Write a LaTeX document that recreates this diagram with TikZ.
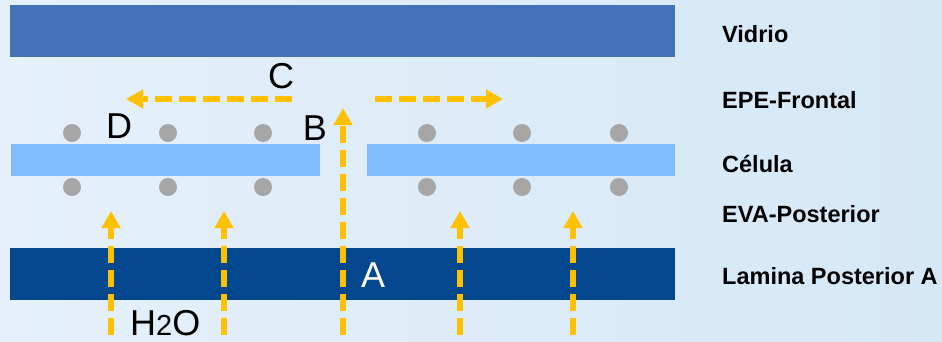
\documentclass[tikz,border=0pt]{standalone}
\usepackage{fontspec}
\setmainfont{Liberation Sans}
\usetikzlibrary{arrows.meta}
\definecolor{bgL}{RGB}{229,240,250}
\definecolor{bgR}{RGB}{213,232,246}
\definecolor{glass}{RGB}{68,114,184}
\definecolor{cellc}{RGB}{128,188,255}
\definecolor{backc}{RGB}{3,71,143}
\definecolor{dotc}{RGB}{166,166,166}
\definecolor{flow}{RGB}{255,192,0}
\begin{document}
\begin{tikzpicture}[x=1pt,y=-1pt,
  layerbox/.style={rectangle, draw=none, inner sep=0pt, outer sep=0pt},
  wetdot/.style={circle, fill=dotc, draw=none, minimum size=18pt, inner sep=0pt},
  flowarrow/.style={draw=flow, line width=5.5pt, dash pattern=on 17pt off 7pt,
     -{Triangle[length=17pt,width=18pt]}},
  sidelabel/.style={anchor=base west, inner sep=0pt, font=\bfseries\fontsize{23.5}{28}\selectfont},
  bigletter/.style={anchor=base, inner sep=0pt, font=\fontsize{36}{40}\selectfont}]
% background
\shade[left color=bgL, right color=bgR] (0,0) rectangle (942,341);
\useasboundingbox (0,0) rectangle (942,341);
% layers
\node[layerbox, fill=glass, minimum width=665pt, minimum height=52pt] (vidrio) at (342.5,31) {};
\node[layerbox, fill=cellc, minimum width=309pt, minimum height=32pt] (cellL) at (165.5,160) {};
\node[layerbox, fill=cellc, minimum width=308pt, minimum height=32pt] (cellR) at (521,160) {};
\node[layerbox, fill=backc, minimum width=665pt, minimum height=52pt] (lamina) at (342.5,274) {};
% dots
\foreach \x [count=\i] in {72,168,263,427,522,619} {
  \node[wetdot] (dt\i) at (\x,133) {};
  \node[wetdot] (db\i) at (\x,187) {};
}
% arrow coordinates
\coordinate (cS) at (292,99);
\coordinate (cE) at (126,99);
\coordinate (rS) at (375,99);
\coordinate (rE) at (503,99);
\foreach \x [count=\i] in {111,224,460,573} {
  \coordinate (vS\i) at (\x,335);
  \coordinate (vE\i) at (\x,211);
}
\coordinate (mS) at (343,335);
\coordinate (mE) at (343,108);
% arrows
\draw[flowarrow] (cS) -- (cE);
\draw[flowarrow] (rS) -- (rE);
\foreach \i in {1,...,4} { \draw[flowarrow] (vS\i) -- (vE\i); }
\draw[flowarrow] (mS) -- (mE);
% letters
\node[bigletter] (lC) at (281,88) {C};
\node[bigletter] (lD) at (119,138) {D};
\node[bigletter] (lB) at (315,140) {B};
\node[bigletter, anchor=base west, text=white] (lA) at (361,287) {A};
\node[bigletter, anchor=base west] (lH) at (130,335) {H{\fontsize{29}{30}\selectfont 2}O};
% side labels
\node[sidelabel] (tV) at (722,42) {Vidrio};
\node[sidelabel] (tE) at (722,108) {EPE-Frontal};
\node[sidelabel] (tC) at (722,172) {Célula};
\node[sidelabel] (tP) at (722,222) {EVA-Posterior};
\node[sidelabel] (tL) at (722,284) {Lamina Posterior A};
\end{tikzpicture}
\end{document}
